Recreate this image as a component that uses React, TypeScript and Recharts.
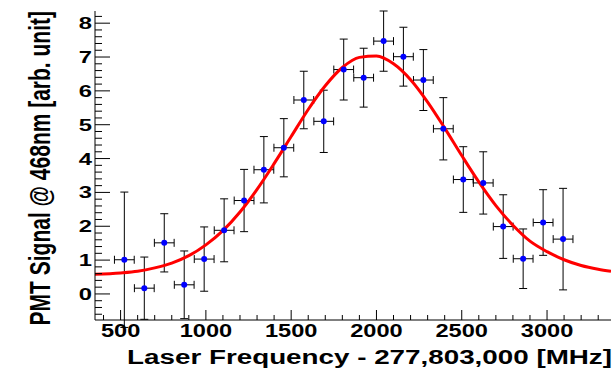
import React from "react";
import { ComposedChart, Scatter, Line, XAxis, YAxis, ErrorBar } from "recharts";

// measured points (MHz offset, PMT signal, error)
const freqs = [522, 639, 756, 873, 990, 1107, 1224, 1340, 1457, 1574, 1691, 1808, 1925, 2042, 2158, 2275, 2392, 2509, 2626, 2743, 2860, 2977, 3094];
const signals = [1.01, 0.17, 1.51, 0.27, 1.03, 1.88, 2.76, 3.67, 4.32, 5.73, 5.1, 6.63, 6.39, 7.47, 7.01, 6.32, 4.88, 3.38, 3.28, 1.99, 1.04, 2.11, 1.62];
const signalErrors = [2.0, 0.92, 0.86, 1.0, 0.95, 0.93, 0.92, 0.98, 0.86, 0.85, 0.92, 0.9, 0.87, 0.89, 0.87, 0.9, 0.92, 0.97, 0.92, 0.94, 0.88, 0.97, 1.5];
const freqError = 58;

// fitted curve
const fitFreqs = [350, 500, 600, 700, 800, 900, 1000, 1100, 1200, 1300, 1400, 1500, 1600, 1700, 1800, 1900, 2000, 2100, 2200, 2300, 2400, 2500, 2600, 2700, 2800, 2900, 3000, 3100, 3200, 3300, 3375];
const fitValues = [0.58, 0.62, 0.67, 0.77, 0.91, 1.13, 1.45, 1.87, 2.42, 3.09, 3.85, 4.65, 5.45, 6.15, 6.69, 6.99, 7.03, 6.8, 6.33, 5.67, 4.9, 4.09, 3.31, 2.61, 2.03, 1.56, 1.25, 1.01, 0.84, 0.73, 0.67];

const xMajor = [500, 1000, 1500, 2000, 2500, 3000];
const yMajor = [0, 1, 2, 3, 4, 5, 6, 7, 8];

const xTicks = Array.from({ length: 30 }, (_, i) => 400 + i * 100);
const yTicks = Array.from({ length: 45 }, (_, i) => Math.round((-0.6 + i * 0.2) * 10) / 10);

const points = freqs.map((f, i) => ({ x: f, y: signals[i], ex: freqError, ey: signalErrors[i] }));
const fit = fitFreqs.map((f, i) => ({ x: f, y: fitValues[i] }));

const FONT = "'Liberation Sans', Arial, Helvetica, sans-serif";

const YTick = (props: any) => {
  const { x, y, payload } = props;
  const v = payload.value;
  const major = yMajor.includes(v);
  return (
    <g>
      <line x1={x} x2={x + (major ? 15 : 7)} y1={y} y2={y} stroke="#000" strokeWidth={1} />
      {major && (
        <text
          transform={`translate(${x - 3},${y + 6}) scale(1.4,1)`}
          textAnchor="end"
          fontFamily={FONT}
          fontWeight="bold"
          fontSize={17}
          fill="#000"
        >
          {v}
        </text>
      )}
    </g>
  );
};

const XTick = (props: any) => {
  const { x, y, payload } = props;
  const v = payload.value;
  const major = xMajor.includes(v);
  return (
    <g>
      <line x1={x} x2={x} y1={y} y2={y - (major ? 10 : 5)} stroke="#000" strokeWidth={1} />
      {major && (
        <text
          transform={`translate(${x},${y + 17}) scale(1.35,1)`}
          textAnchor="middle"
          fontFamily={FONT}
          fontWeight="bold"
          fontSize={17.5}
          fill="#000"
        >
          {v}
        </text>
      )}
    </g>
  );
};

const Dot = (props: any) => <circle cx={props.cx} cy={props.cy} r={3} fill="#0000ff" />;

export default function App() {
  return (
    <div style={{ position: "absolute", left: 0, top: 0 }}>
      <ComposedChart width={616} height={369} margin={{ top: 11, right: 5, left: 35, bottom: 9 }}>
        <XAxis
          dataKey="x"
          type="number"
          domain={[350, 3375]}
          ticks={xTicks}
          interval={0}
          tickSize={0}
          tickMargin={0}
          tick={<XTick />}
          tickLine={false}
          axisLine={{ stroke: "#000", strokeWidth: 1 }}
          allowDataOverflow
          height={40}
          label={{
            content: () => (
              <text
                transform="translate(612,364) scale(1.39,1)"
                textAnchor="end"
                fontFamily={FONT}
                fontWeight="bold"
                fontSize={20}
                fill="#000"
              >
                Laser Frequency - 277,803,000 [MHz]
              </text>
            ),
          }}
        />
        <XAxis xAxisId="top" orientation="top" type="number" domain={[350, 3375]} height={0} tick={false} tickLine={false} axisLine={{ stroke: "#808080", strokeWidth: 1.5 }} />
        <YAxis
          dataKey="y"
          type="number"
          domain={[-0.77, 8.36]}
          ticks={yTicks}
          interval={0}
          tickSize={0}
          tickMargin={0}
          tick={<YTick />}
          tickLine={false}
          axisLine={{ stroke: "#000", strokeWidth: 1 }}
          allowDataOverflow
          width={60}
          label={{
            content: () => (
              <text
                transform="translate(50,11) rotate(-90) scale(1,1.38)"
                textAnchor="end"
                fontFamily={FONT}
                fontWeight="bold"
                fontSize={21}
                fill="#000"
              >
                PMT Signal @ 468nm [arb. unit]
              </text>
            ),
          }}
        />
        <YAxis yAxisId="right" orientation="right" type="number" domain={[-0.77, 8.36]} width={0} tick={false} tickLine={false} axisLine={{ stroke: "#808080", strokeWidth: 2 }} />
        <Scatter data={points} shape={<Dot />} isAnimationActive={false}>
          <ErrorBar dataKey="ey" direction="y" width={4} stroke="#000" strokeWidth={1} isAnimationActive={false} />
          <ErrorBar dataKey="ex" direction="x" width={4} stroke="#000" strokeWidth={1} isAnimationActive={false} />
        </Scatter>
        <Line data={fit} dataKey="y" type="monotone" stroke="#ff0000" strokeWidth={3} dot={false} activeDot={false} isAnimationActive={false} />
      </ComposedChart>
    </div>
  );
}
